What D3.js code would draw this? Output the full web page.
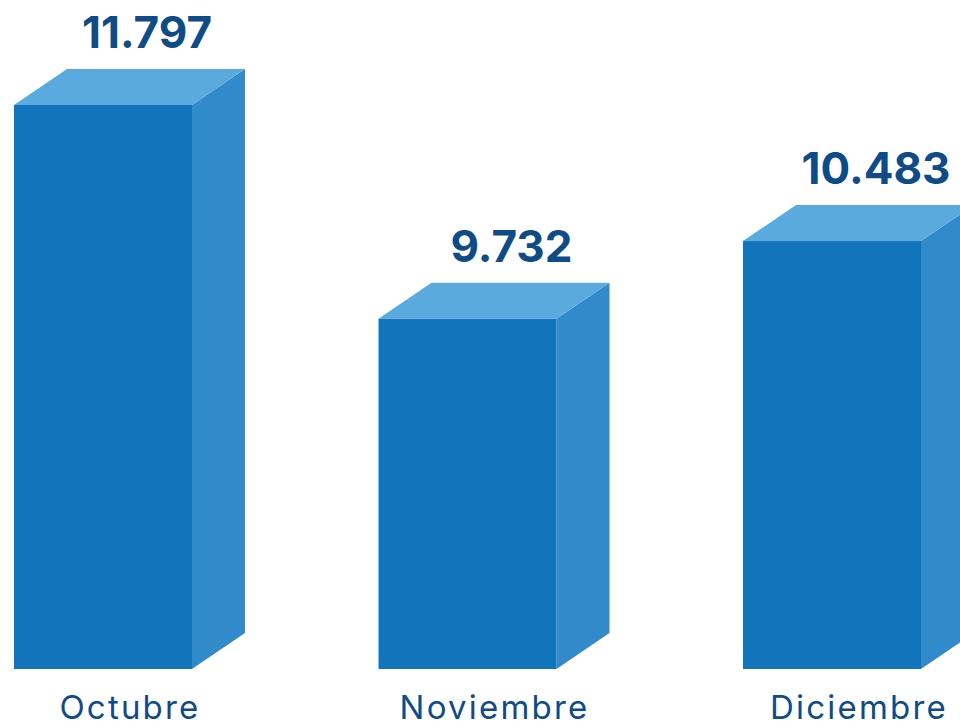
<!DOCTYPE html>
<html>
<head>
<meta charset="utf-8">
<script src="https://cdn.jsdelivr.net/npm/d3@7"></script>
<style>
  html, body { margin: 0; padding: 0; background: #fff; }
  svg { display: block; }
</style>
</head>
<body>
<div id="chart"></div>
<script>
// datos
var months = ["Octubre", "Noviembre", "Diciembre"];
var totals = [11797, 9732, 10483];
var totalLabels = ["11.797", "9.732", "10.483"];

var width = 960,
    height = 728;
var base = 669;          // bottom of front faces
var depth = { x: 53, y: 36 };

var svg = d3.select("#chart")
  .append("svg")
    .attr("width", width)
    .attr("height", height);

var x = d3.scaleBand()
  .domain(months)
  .range([14, 921])
  .paddingInner(0.5117)
  .paddingOuter(0);

// eje sin cero, como en la gráfica original
var y = d3.scaleLinear()
  .domain([6350, 11797])
  .range([base, 105]);

var rows = months.map(function(m, i) {
  return { month: m, value: totals[i], label: totalLabels[i] };
});

var bars = svg.selectAll("g.bar")
  .data(rows)
  .enter()
    .append("g")
    .attr("class", "bar");

// cara lateral
bars.append("path")
  .attr("fill", "#318BCB")
  .attr("d", function(d) {
    var x1 = x(d.month) + x.bandwidth(), t = y(d.value);
    return "M" + x1 + "," + t +
           "L" + (x1 + depth.x) + "," + (t - depth.y) +
           "L" + (x1 + depth.x) + "," + (base - depth.y) +
           "L" + x1 + "," + base + "Z";
  });

// cara superior
bars.append("path")
  .attr("fill", "#5BAADD")
  .attr("d", function(d) {
    var x0 = x(d.month), x1 = x0 + x.bandwidth(), t = y(d.value);
    return "M" + x0 + "," + t +
           "L" + (x0 + depth.x) + "," + (t - depth.y) +
           "L" + (x1 + depth.x) + "," + (t - depth.y) +
           "L" + x1 + "," + t + "Z";
  });

// cara frontal
bars.append("rect")
  .attr("fill", "#1275BC")
  .attr("x", function(d) { return x(d.month); })
  .attr("y", function(d) { return y(d.value); })
  .attr("width", x.bandwidth())
  .attr("height", function(d) { return base - y(d.value); });

// valores
bars.append("text")
  .attr("x", function(d) { return x(d.month) + x.bandwidth() / 2 + 44; })
  .attr("y", function(d) { return y(d.value) - depth.y - 21; })
  .attr("text-anchor", "middle")
  .attr("fill", "#0F4C86")
  .style("font-family", "Inter, 'Open Sans', sans-serif")
  .style("font-weight", "700")
  .style("font-size", "44px")
  .text(function(d) { return d.label; });

// meses
bars.append("text")
  .attr("x", function(d) { return x(d.month) + x.bandwidth() / 2 + 27; })
  .attr("y", 719)
  .attr("text-anchor", "middle")
  .attr("fill", "#0F4C86")
  .style("font-family", "Inter, 'Open Sans', sans-serif")
  .style("font-weight", "400")
  .style("font-size", "33px")
  .style("letter-spacing", "2.2px")
  .text(function(d) { return d.month; });
</script>
</body>
</html>
